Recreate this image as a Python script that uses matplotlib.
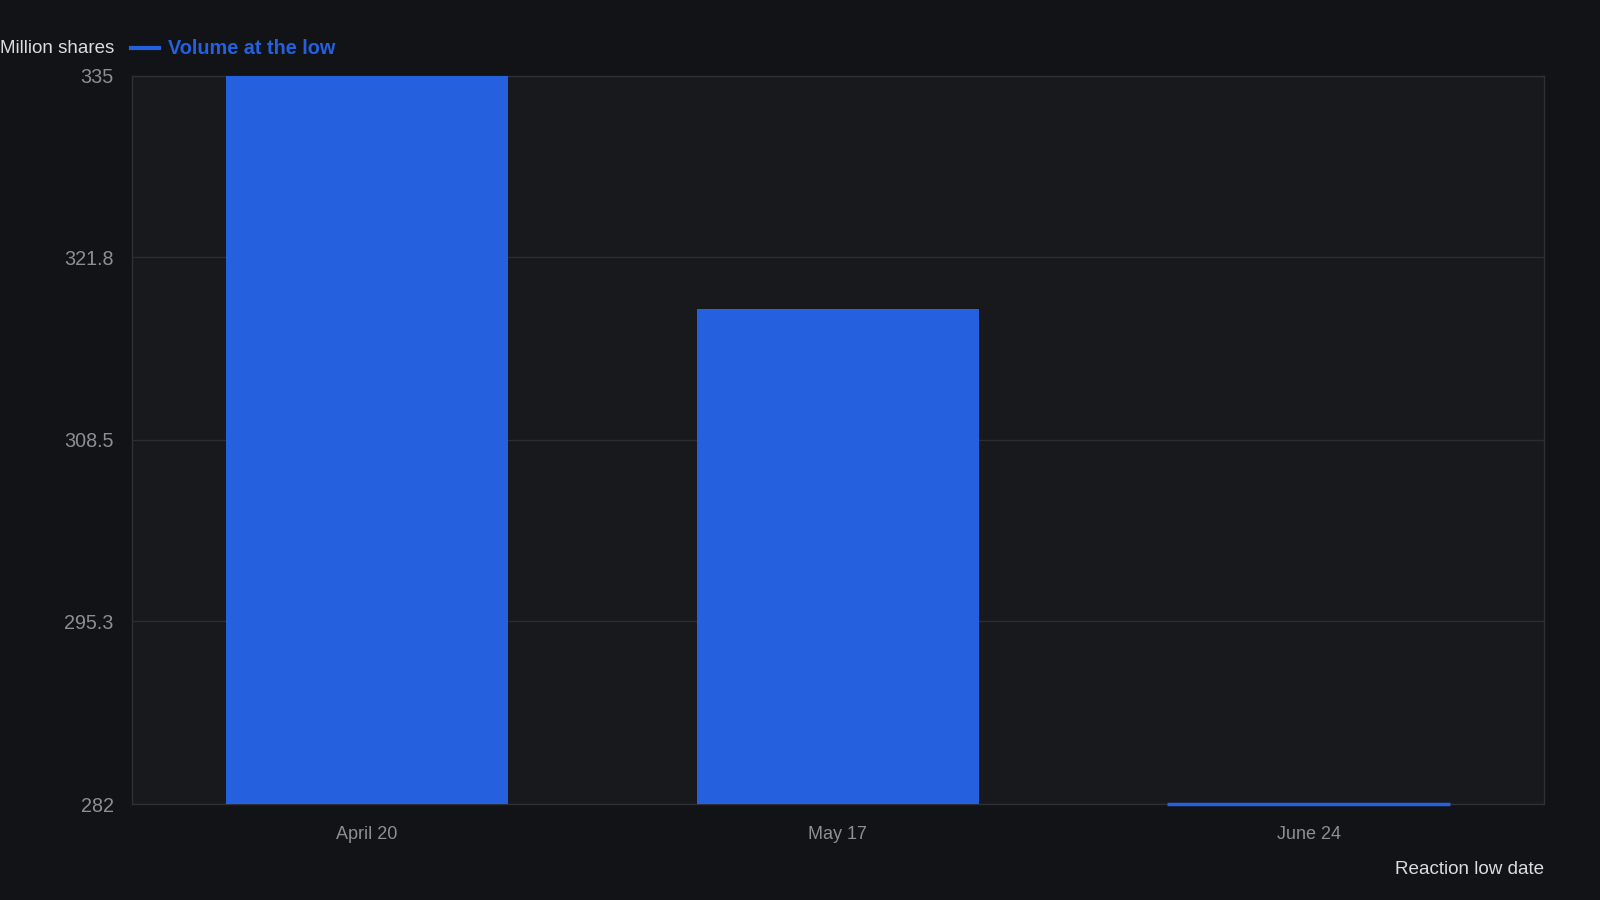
import matplotlib
matplotlib.use("Agg")
import matplotlib.pyplot as plt
from matplotlib.lines import Line2D

# data
dates = ["April 20", "May 17", "June 24"]
volume = [335.0, 318.0, 282.0]
y_ticks = [282, 295.3, 308.5, 321.8, 335]
y_min, y_max = 282, 335

_BG = "#111317"
_CARD = "#17191d"
_GRID = "#2a2d32"
_BLUE = "#2560de"
_TICK = "#8b8e94"
_TX = "#dcdcdc"

plt.rcParams["font.family"] = ["Liberation Sans", "DejaVu Sans"]

fig = plt.figure(figsize=(16, 9), dpi=100)
fig.patch.set_facecolor(_BG)
ax = fig.add_axes([0.0823, 0.1066, 0.965 - 0.0823, 0.916 - 0.1066])
ax.set_facecolor(_CARD)

x = range(len(dates))
heights = [v - y_min for v in volume]
ax.bar(x, heights, bottom=y_min, width=0.6, color=_BLUE, zorder=3)
# zero-height bars still show as a thin line at the baseline
for xi, h in zip(x, heights):
    if h <= 0:
        ax.plot([xi - 0.3, xi + 0.3], [y_min, y_min], color=_BLUE,
                linewidth=2.5, zorder=4, clip_on=False, solid_capstyle="butt")

ax.set_xlim(-0.5, len(dates) - 0.5)
ax.set_ylim(y_min, y_max)
ax.set_yticks(y_ticks)
ax.set_yticklabels([f"{t:g}" for t in y_ticks])
ax.set_xticks(list(x))
ax.set_xticklabels(dates)
ax.grid(axis="y", color=_GRID, linewidth=1, zorder=0)
ax.tick_params(length=0, colors=_TICK)
ax.tick_params(axis="y", pad=13, labelsize=14.2)
ax.tick_params(axis="x", pad=16, labelsize=13)
for spine in ax.spines.values():
    spine.set_color("#2d3035")
    spine.set_linewidth(1)

fig.text(0.0713, 0.946, "Million shares", color=_TX, fontsize=13.5,
         ha="right", va="center")
fig.add_artist(Line2D([0.0816, 0.0995], [0.947, 0.947], color=_BLUE,
                      linewidth=3, transform=fig.transFigure))
fig.text(0.105, 0.946, "Volume at the low", color=_BLUE, fontsize=14.3,
         fontweight="bold", ha="left", va="center")
fig.text(0.965, 0.034, "Reaction low date", color=_TX, fontsize=13.6,
         ha="right", va="center")

fig.savefig("out.png", facecolor=_BG)
